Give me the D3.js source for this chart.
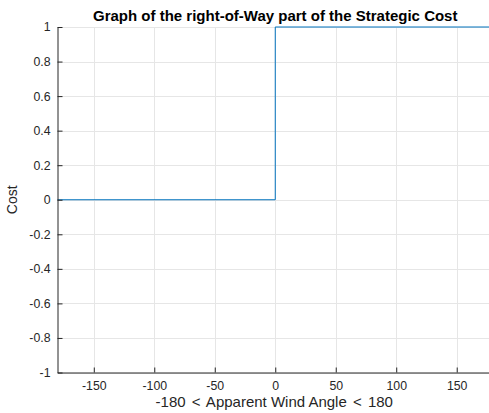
<!DOCTYPE html>
<html>
<head>
<meta charset="utf-8">
<script src="https://cdn.jsdelivr.net/npm/d3@7"></script>
<style>
  html, body { margin: 0; padding: 0; background: #fff; }
  svg { display: block; font-family: "Liberation Sans", Arial, Helvetica, sans-serif; }
</style>
</head>
<body>
<svg id="chart" width="489" height="413"></svg>
<script>
// Step function: cost 0 for negative angles, 1 for non-negative angles
const angles = [-180, 0, 0, 180];
const costs = [0, 0, 1, 1];
const xTicks = [-150, -100, -50, 0, 50, 100, 150];
const yTicks = [-1, -0.8, -0.6, -0.4, -0.2, 0, 0.2, 0.4, 0.6, 0.8, 1];

(function () {
const svg = d3.select("#chart");
const plotLeft = 57.5, plotRight = 493, plotTop = 27, plotBottom = 372.5;

const x = d3.scaleLinear().domain([-180, 180]).range([plotLeft, plotRight]);
const y = d3.scaleLinear().domain([-1, 1]).range([plotBottom, plotTop]);

// grid
const grid = svg.append("g");
grid.selectAll("line.gx").data(xTicks).join("line")
  .attr("x1", d => Math.round(x(d)) + 0.5).attr("x2", d => Math.round(x(d)) + 0.5)
  .attr("y1", plotTop).attr("y2", plotBottom)
  .attr("stroke", "#e6e6e6").attr("stroke-width", 1);
grid.selectAll("line.gy").data(yTicks).join("line")
  .attr("y1", d => Math.round(y(d)) + 0.5).attr("y2", d => Math.round(y(d)) + 0.5)
  .attr("x1", plotLeft).attr("x2", plotRight)
  .attr("stroke", "#e6e6e6").attr("stroke-width", 1);

// data line
const line = d3.line().x((d, i) => x(angles[i])).y(d => y(d));
svg.append("path").datum(costs)
  .attr("d", line)
  .attr("fill", "none")
  .attr("stroke", "#0072BD")
  .attr("stroke-width", 1);

// axes
const axisColor = "#262626";
const plain = d => String(d);
const xAxis = svg.append("g").attr("transform", `translate(0,${plotBottom})`)
  .call(d3.axisBottom(x).tickValues(xTicks).tickSizeInner(-5).tickSizeOuter(0).tickPadding(9)
    .tickFormat(plain));
const yAxis = svg.append("g").attr("transform", `translate(${plotLeft},0)`)
  .call(d3.axisLeft(y).tickValues(yTicks).tickSizeInner(-5).tickSizeOuter(0).tickPadding(7)
    .tickFormat(plain));

[xAxis, yAxis].forEach(g => {
  g.select(".domain").attr("stroke", axisColor);
  g.selectAll(".tick line").attr("stroke", axisColor);
  g.selectAll(".tick text").attr("fill", axisColor).style("font-size", "12.3px")
    .style("font-family", '"Liberation Sans", Arial, sans-serif');
});

// title
svg.append("text")
  .attr("x", (plotLeft + plotRight) / 2).attr("y", 21)
  .attr("text-anchor", "middle")
  .style("font-size", "15px").style("font-weight", "bold")
  .attr("fill", "#000")
  .text("Graph of the right-of-Way part of the Strategic Cost");

// x label, relation signs set with a little extra room
const xl = svg.append("text")
  .attr("x", (plotLeft + plotRight) / 2 - 1).attr("y", 407)
  .attr("text-anchor", "middle")
  .style("font-size", "15px")
  .attr("fill", axisColor);
xl.append("tspan").text("-180 ");
xl.append("tspan").attr("dx", 2).text("<");
xl.append("tspan").attr("dx", 2).text(" Apparent Wind Angle ");
xl.append("tspan").attr("dx", 2).text("<");
xl.append("tspan").attr("dx", 2).text(" 180");

svg.append("text")
  .attr("transform", `translate(17,${(plotTop + plotBottom) / 2}) rotate(-90)`)
  .attr("text-anchor", "middle")
  .style("font-size", "14px")
  .attr("fill", axisColor)
  .text("Cost");
})();
</script>
</body>
</html>
